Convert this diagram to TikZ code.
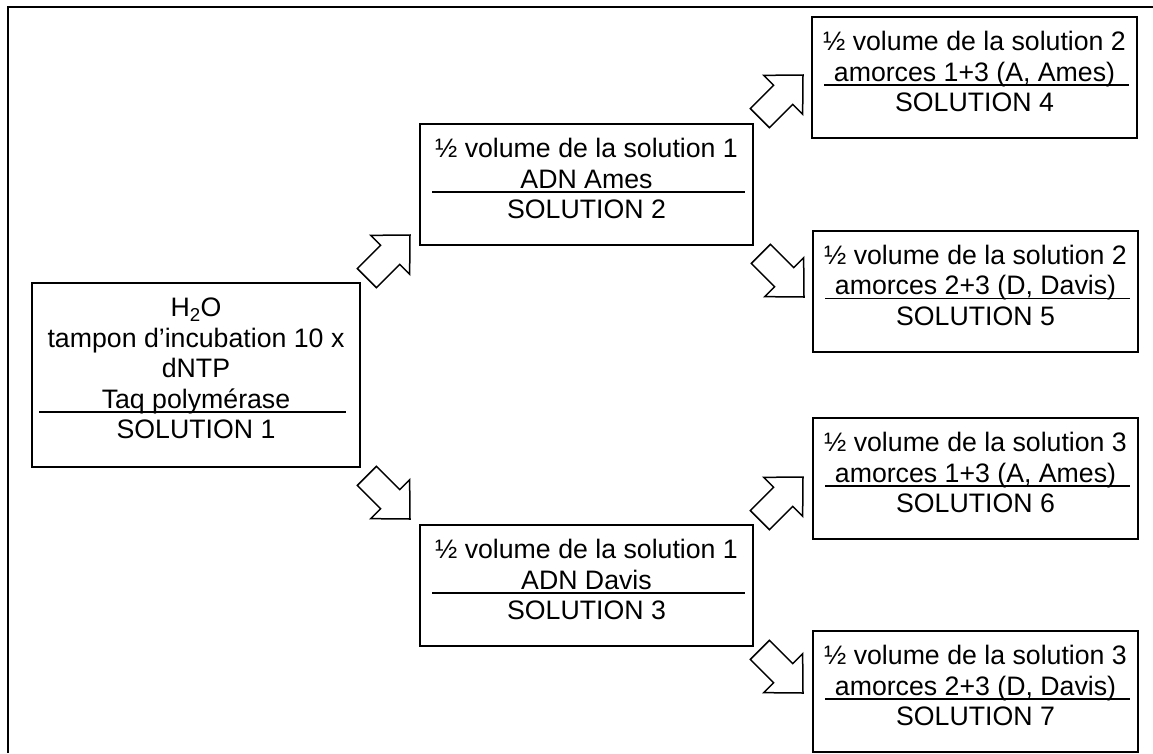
\documentclass[tikz,border=0pt]{standalone}
\usepackage{fontspec}
\setmainfont{Liberation Sans}
\usetikzlibrary{calc}
\tikzset{
  solbox/.style={draw, line width=2pt, inner sep=0pt},
  soltext/.style={inner sep=0pt, align=center, anchor=north, font=\fontsize{26.7}{30.5}\selectfont},
  solrule/.style={line width=1.5pt},
  frameline/.style={line width=2.5pt},
  arrowline/.style={line width=1.5pt, line join=miter},
  blockarrow/.pic={\draw[arrowline] (0,0) -- (-28,27.5) -- (-28,13.5) -- (-61,13.5) -- (-61,-13.5) -- (-28,-13.5) -- (-28,-27.5) -- cycle;}
}
\begin{document}
\begin{tikzpicture}[x=1pt,y=-1pt]
\useasboundingbox (0,0) rectangle (1153,753);
% frame
\coordinate (frbl) at (8,753);
\coordinate (frtl) at (8,7);
\coordinate (frtr) at (1153,7);
\draw[frameline] (frbl) -- (frtl) -- (frtr);
% boxes
\node[solbox, minimum width=328pt, minimum height=184pt] (b1) at (196,375) {};
\node[solbox, minimum width=333pt, minimum height=121pt] (b2) at (586.5,184.5) {};
\node[solbox, minimum width=333pt, minimum height=121pt] (b3) at (586.5,585.5) {};
\node[solbox, minimum width=325pt, minimum height=121pt] (b4) at (974.5,77.5) {};
\node[solbox, minimum width=325pt, minimum height=121pt] (b5) at (975.5,291) {};
\node[solbox, minimum width=325pt, minimum height=121pt] (b6) at (975.5,478.5) {};
\node[solbox, minimum width=325pt, minimum height=121pt] (b7) at (975.5,691.5) {};
% texts
\node[soltext] (b1t) at ($(b1.north)+(0,13)$) {\strut H\textsubscript{2}O\\tampon d’incubation 10 x\\dNTP\\Taq polymérase\\SOLUTION 1};
\node[soltext] (b2t) at ($(b2.north)+(0,13)$) {\strut ½ volume de la solution 1\\ADN Ames\\SOLUTION 2};
\node[soltext] (b3t) at ($(b3.north)+(0,13)$) {\strut ½ volume de la solution 1\\ADN Davis\\SOLUTION 3};
\node[soltext] (b4t) at ($(b4.north)+(0,13)$) {\strut ½ volume de la solution 2\\amorces 1+3 (A, Ames)\\SOLUTION 4};
\node[soltext] (b5t) at ($(b5.north)+(0,13)$) {\strut ½ volume de la solution 2\\amorces 2+3 (D, Davis)\\SOLUTION 5};
\node[soltext] (b6t) at ($(b6.north)+(0,13)$) {\strut ½ volume de la solution 3\\amorces 1+3 (A, Ames)\\SOLUTION 6};
\node[soltext] (b7t) at ($(b7.north)+(0,13)$) {\strut ½ volume de la solution 3\\amorces 2+3 (D, Davis)\\SOLUTION 7};
% rules
\draw[solrule] ($(b1.north west)+(8,130)$) -- ($(b1.north east)+(-15,130)$);
\foreach \b in {b2,b3,b4,b5,b6,b7}{
  \draw[solrule] ($(\b.north west)+(13,69)$) -- ($(\b.north east)+(-9,69)$);
}
% block arrows
\coordinate (t1) at ($(b2.south west)+(-9,-11)$);
\coordinate (t2) at ($(b3.north west)+(-9,-5)$);
\coordinate (t3) at ($(b4.west)+(-8,-2.5)$);
\coordinate (t4) at ($(b5.west)+(-8,6)$);
\coordinate (t5) at ($(b6.west)+(-9,-1.5)$);
\coordinate (t6) at ($(b7.west)+(-9,1.5)$);
\pic[rotate=45] at (t1) {blockarrow};
\pic[rotate=-45] at (t2) {blockarrow};
\pic[rotate=45] at (t3) {blockarrow};
\pic[rotate=-45] at (t4) {blockarrow};
\pic[rotate=45] at (t5) {blockarrow};
\pic[rotate=-45] at (t6) {blockarrow};
\end{tikzpicture}
\end{document}
